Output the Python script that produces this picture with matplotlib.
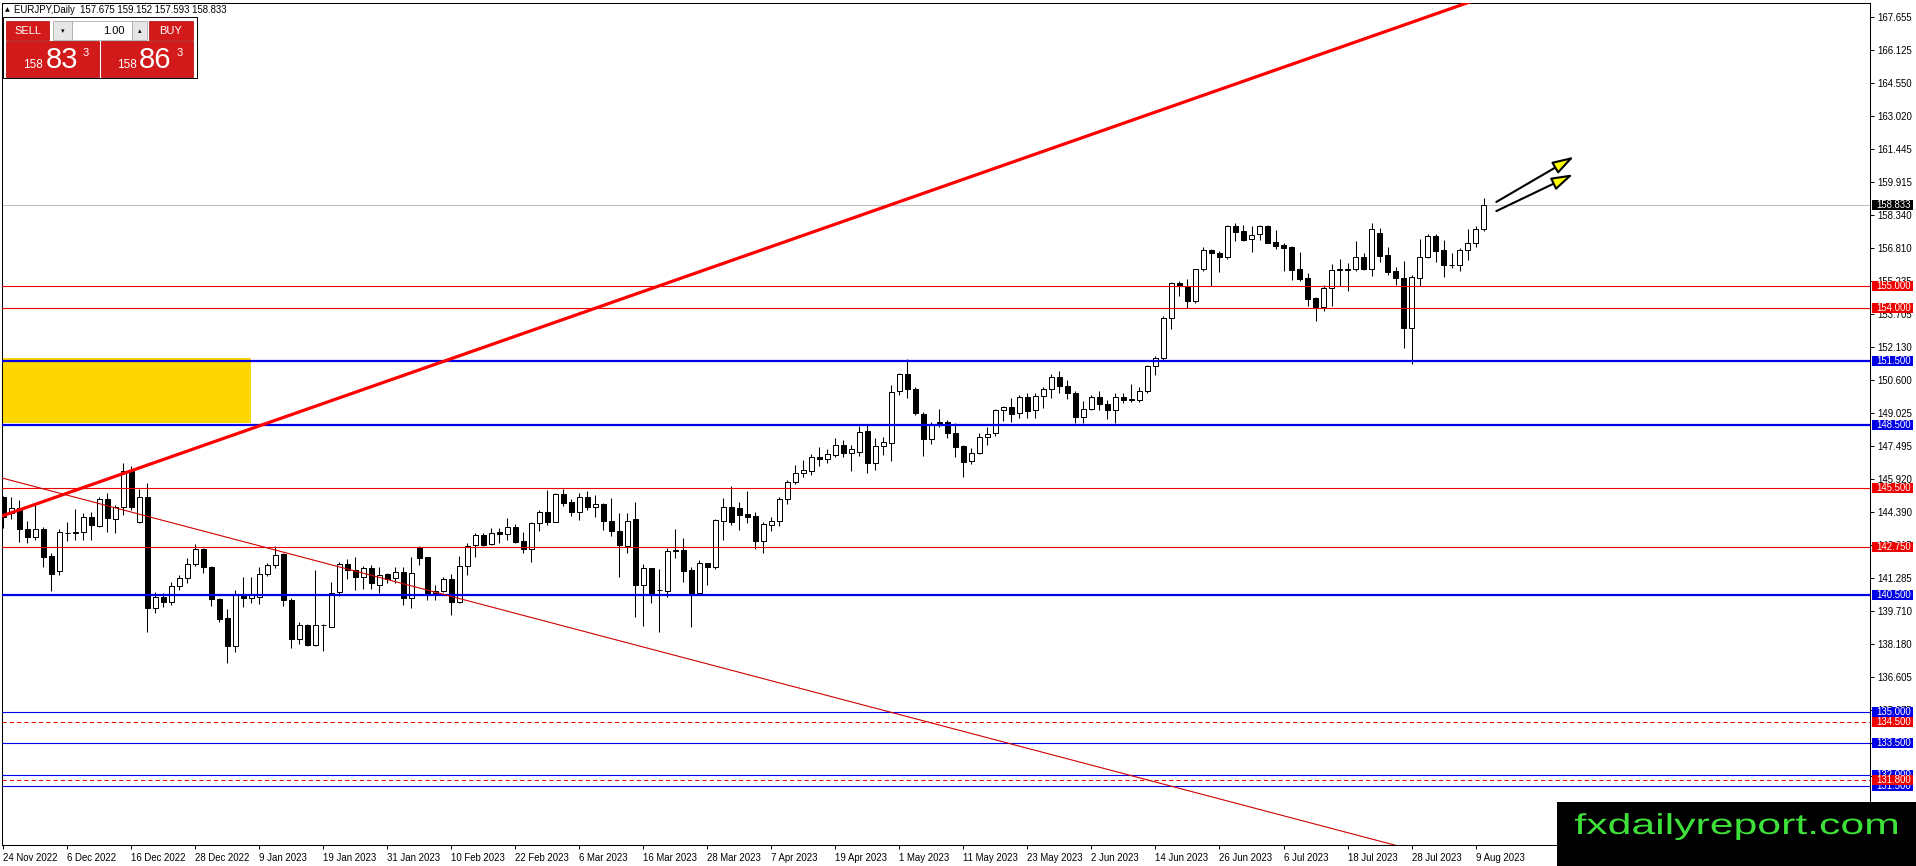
import pandas as pd
import matplotlib
matplotlib.use("Agg")
import matplotlib.pyplot as plt
from matplotlib.patches import Rectangle, PathPatch
from matplotlib.textpath import TextPath
from matplotlib.font_manager import FontProperties
from matplotlib.transforms import Affine2D

plt.rcParams['font.family'] = ['Liberation Sans', 'DejaVu Sans']

W, H = 1916, 866

# EURJPY daily candles, 24 Nov 2022 .. 10 Aug 2023
opens = [145.08, 144.36, 144.59, 143.57, 143.20, 143.57, 142.33, 141.63, 143.38, 143.45,
         143.43, 144.17, 143.74, 144.98, 144.04, 144.64, 146.33, 143.90, 145.11, 139.86,
         140.37, 140.17, 140.92, 141.27, 141.93, 142.63, 141.78, 140.28, 139.39, 138.10,
         140.53, 140.33, 140.37, 141.45, 141.89, 142.40, 140.25, 138.40, 139.07, 138.13,
         139.06, 138.99, 140.64, 141.94, 141.66, 141.35, 141.74, 140.95, 141.45, 141.27,
         141.58, 140.33, 142.76, 142.25, 140.59, 140.69, 141.22, 140.17, 141.85, 142.83,
         143.31, 142.88, 143.46, 143.35, 143.70, 143.02, 142.63, 143.89, 144.40, 143.93,
         145.23, 144.84, 144.40, 145.08, 144.61, 144.76, 143.98, 143.51, 142.80, 144.04,
         140.95, 141.74, 140.74, 140.69, 142.54, 142.60, 141.66, 140.56, 141.97, 141.78,
         143.98, 144.61, 144.56, 144.29, 144.20, 143.04, 143.79, 143.98, 144.98, 145.81,
         146.24, 146.33, 146.96, 146.86, 147.05, 147.52, 147.18, 147.22, 148.20, 146.68,
         147.49, 147.65, 150.09, 150.88, 150.16, 149.00, 147.80, 148.60, 148.60, 148.12,
         147.49, 146.80, 147.15, 147.93, 148.09, 149.18, 149.31, 149.03, 149.78, 149.18,
         149.84, 150.16, 150.75, 150.31, 150.00, 148.84, 149.25, 149.78, 149.47, 149.18,
         149.81, 149.67, 149.65, 150.09, 151.25, 151.65, 153.50, 155.14, 154.99, 154.33,
         155.80, 156.71, 156.59, 156.40, 157.84, 157.60, 157.21, 157.45, 157.84, 157.09,
         156.95, 156.84, 155.80, 155.39, 154.45, 154.05, 154.91, 155.79, 155.80, 155.80,
         156.37, 155.80, 157.53, 156.48, 155.74, 155.38, 153.03, 155.38, 156.37, 157.37,
         156.71, 155.99, 156.02, 156.71, 157.02, 157.675]
highs = [145.14, 145.08, 144.95, 143.96, 144.79, 143.70, 142.44, 143.57, 143.93, 144.51,
         144.36, 144.40, 145.08, 145.26, 144.72, 146.68, 146.55, 145.45, 145.77, 140.64,
         140.59, 141.11, 141.42, 142.21, 142.88, 142.68, 141.85, 140.33, 139.81, 140.72,
         141.35, 141.35, 141.82, 142.00, 142.79, 142.44, 140.33, 139.23, 139.10, 141.66,
         139.12, 141.11, 142.05, 142.16, 142.25, 141.85, 141.89, 141.82, 141.53, 141.78,
         141.82, 142.25, 142.79, 142.29, 140.95, 141.31, 141.47, 142.32, 142.91, 143.38,
         143.38, 143.62, 143.62, 144.09, 143.82, 143.46, 143.93, 144.48, 145.42, 145.27,
         145.45, 144.98, 145.30, 145.38, 145.19, 144.83, 145.03, 144.32, 144.32, 144.87,
         141.93, 141.76, 141.69, 142.68, 143.57, 143.15, 141.78, 142.13, 142.00, 144.04,
         145.03, 145.61, 144.87, 145.38, 144.40, 143.93, 144.17, 145.11, 145.89, 146.60,
         146.83, 147.11, 147.43, 147.33, 147.85, 147.77, 147.54, 148.43, 148.48, 147.85,
         147.93, 150.36, 150.94, 151.57, 150.28, 149.11, 148.64, 149.22, 148.71, 148.59,
         147.54, 147.38, 148.12, 148.40, 149.22, 149.37, 149.73, 149.89, 149.97, 149.97,
         150.28, 150.88, 151.00, 150.60, 150.09, 149.62, 149.89, 150.09, 149.65, 149.97,
         149.97, 150.41, 150.28, 151.30, 151.72, 153.61, 155.22, 155.27, 155.33, 155.83,
         156.87, 156.74, 156.68, 157.87, 157.96, 157.89, 157.84, 157.89, 157.87, 157.65,
         157.02, 156.90, 156.62, 155.64, 154.48, 155.06, 156.05, 156.27, 156.11, 157.13,
         156.55, 158.00, 157.73, 156.87, 155.90, 156.21, 155.53, 157.21, 157.46, 157.46,
         157.18, 156.58, 156.79, 157.68, 157.84, 159.152]
lows = [143.62, 144.04, 142.99, 142.94, 143.07, 141.82, 140.69, 141.42, 143.04, 143.07,
        143.07, 143.07, 143.67, 143.46, 143.41, 144.25, 144.48, 143.85, 138.76, 139.62,
        139.90, 140.01, 140.72, 141.06, 141.85, 141.50, 139.97, 139.23, 137.30, 137.82,
        139.90, 140.09, 140.06, 141.38, 141.74, 139.97, 137.97, 138.18, 138.10, 138.08,
        137.86, 138.98, 140.44, 141.22, 140.72, 140.75, 140.75, 140.56, 141.03, 141.03,
        140.01, 139.86, 141.89, 140.25, 140.25, 140.64, 139.54, 140.12, 141.42, 142.29,
        142.79, 142.83, 142.94, 143.07, 142.94, 142.47, 142.05, 143.51, 143.78, 143.90,
        144.69, 144.21, 144.01, 144.48, 144.17, 143.54, 143.26, 141.31, 142.47, 139.43,
        139.04, 140.09, 138.76, 140.37, 142.24, 141.11, 138.99, 140.54, 140.95, 141.69,
        143.07, 143.78, 143.54, 143.89, 142.63, 142.47, 143.51, 143.73, 144.76, 145.70,
        146.02, 146.13, 146.55, 146.71, 146.96, 146.99, 146.33, 147.02, 146.24, 146.36,
        147.07, 146.80, 149.89, 149.76, 148.95, 147.02, 147.59, 148.37, 147.85, 146.96,
        146.05, 146.63, 147.11, 147.54, 147.96, 148.68, 148.64, 148.79, 148.79, 148.79,
        149.26, 149.73, 150.00, 149.69, 148.59, 148.59, 149.18, 149.18, 148.75, 148.56,
        149.53, 149.58, 149.58, 149.97, 150.83, 151.54, 152.99, 154.55, 153.97, 154.23,
        155.74, 155.02, 155.69, 156.30, 157.15, 157.15, 156.63, 157.18, 157.03, 156.74,
        155.74, 155.30, 155.27, 154.08, 153.39, 153.86, 154.08, 155.02, 154.80, 155.74,
        155.77, 155.49, 156.16, 155.53, 155.06, 152.09, 151.35, 155.02, 156.32, 156.16,
        155.46, 155.85, 155.74, 156.24, 156.84, 157.593]
closes = [144.17, 144.59, 143.57, 143.20, 143.57, 142.29, 141.47, 143.43, 143.41, 143.38,
          144.17, 143.78, 144.98, 144.09, 144.64, 146.33, 144.64, 145.11, 139.86, 140.40,
          140.17, 140.92, 141.27, 141.93, 142.63, 141.78, 140.28, 139.35, 138.10, 140.53,
          140.33, 140.53, 141.45, 141.89, 142.36, 140.25, 138.40, 139.07, 138.13, 139.07,
          139.07, 140.56, 141.94, 141.66, 141.35, 141.74, 141.06, 141.42, 141.22, 141.58,
          140.33, 141.53, 142.21, 140.59, 140.69, 141.22, 140.17, 141.85, 142.79, 143.31,
          142.83, 143.38, 143.35, 143.70, 142.99, 142.63, 143.89, 144.40, 143.93, 145.23,
          144.83, 144.37, 145.08, 144.61, 144.75, 143.98, 143.51, 142.84, 143.98, 140.95,
          141.74, 140.56, 140.72, 142.55, 142.58, 141.63, 140.56, 141.97, 141.82, 144.01,
          144.61, 143.90, 144.25, 144.17, 143.04, 143.82, 143.98, 144.98, 145.81, 146.24,
          146.36, 146.99, 146.86, 147.10, 147.52, 147.18, 147.33, 148.17, 146.68, 147.49,
          147.70, 150.03, 150.88, 150.16, 149.03, 147.80, 148.48, 148.56, 148.12, 147.46,
          146.75, 147.15, 147.93, 148.06, 149.18, 149.31, 148.98, 149.78, 149.15, 149.84,
          150.16, 150.75, 150.31, 149.97, 148.84, 149.25, 149.78, 149.47, 149.18, 149.81,
          149.65, 149.68, 150.09, 151.25, 151.65, 153.50, 155.14, 155.02, 154.33, 155.80,
          156.71, 156.55, 156.40, 157.84, 157.57, 157.18, 157.42, 157.84, 157.06, 156.90,
          156.79, 155.77, 155.36, 154.42, 154.05, 154.91, 155.77, 155.80, 155.79, 156.37,
          155.80, 157.68, 156.43, 155.69, 155.38, 153.03, 155.42, 156.37, 157.37, 156.68,
          155.99, 156.00, 156.71, 157.06, 157.68, 158.833]
dates = pd.bdate_range('2022-11-24', periods=len(opens))

# right price scale
y_ticks = [167.655, 166.125, 164.550, 163.020, 161.445, 159.915, 158.340, 156.810,
           155.235, 153.705, 152.130, 150.600, 149.025, 147.495, 145.920, 144.390,
           142.815, 141.285, 139.710, 138.180, 136.605, 135.075, 133.500, 131.970,
           130.395, 128.865]

# horizontal levels drawn on the chart
levels = [155.0, 154.0, 151.5, 148.5, 145.5, 142.75, 140.5,
          135.0, 134.5, 133.5, 132.0, 131.8, 131.5]
level_colors = ['r', 'r', 'b', 'b', 'r', 'r', 'b', 'b', 'r', 'b', 'b', 'r', 'b']
level_kinds = ['thin', 'thin', 'thick', 'thick', 'thin', 'thin', 'thick',
               'thin', 'dash', 'thin', 'thin', 'dash', 'thin']
bid = 158.833

zone_low, zone_high, zone_end = 148.55, 151.65, 30.9
trend_up = [(0, 144.22), (150, 163.99)]
trend_down = [(0, 145.97), (150, 131.09)]
arrows = [((186.6, 158.97), (196.3, 161.10)),
          ((186.6, 158.54), (196.2, 160.27))]

RED = '#ee0000'
BLUE = '#0000e6'
cmap = {'r': RED, 'b': BLUE}


def fx(x):
    return x / W


def fy(y):
    return 1 - y / H


fig = plt.figure(figsize=(W / 100, H / 100), dpi=100)
fig.patch.set_facecolor('white')
AX_L, AX_R, AX_T, AX_B = 2.3, 1870, 2.7, 845
ax = fig.add_axes([fx(AX_L), fy(AX_B), (AX_R - AX_L) / W, (AX_B - AX_T) / H])
ax.set_xlim(-0.125, 233.3)
ax.set_ylim(128.723, 168.342)

# yellow zone
ax.add_patch(Rectangle((-10, zone_low), zone_end + 10, zone_high - zone_low,
                       fc='#ffd700', ec='none', zorder=0.5))

# candles
xs = list(range(len(opens)))
ax.vlines(xs, lows, highs, color='black', lw=0.75, zorder=2)
for i in xs:
    o, c = opens[i], closes[i]
    fc = 'black' if c < o else 'white'
    ax.add_patch(Rectangle((i - 0.28, min(o, c)), 0.56, max(abs(c - o), 0.005),
                           fc=fc, ec='black', lw=0.72, zorder=3))

# horizontal levels
for lv, col, kind in zip(levels, level_colors, level_kinds):
    if kind == 'thick':
        ax.axhline(lv, color=cmap[col], lw=1.6, zorder=4)
    elif kind == 'dash':
        ax.axhline(lv, color=cmap[col], lw=0.75, ls=(0, (4, 3)), zorder=4)
    else:
        ax.axhline(lv, color=cmap[col], lw=0.8, zorder=4)
ax.axhline(bid, color='#c0c0c0', lw=0.8, zorder=1)

# trend lines


def extend(pts, x0=-5, x1=240):
    (a, pa), (b, pb) = pts
    k = (pb - pa) / (b - a)
    return [x0, x1], [pa + k * (x0 - a), pa + k * (x1 - a)]


ax.plot(*extend(trend_up), color='#ff0000', lw=2.3, zorder=5, solid_capstyle='butt')
ax.plot(*extend(trend_down), color='#d00000', lw=0.8, zorder=5)

# arrows
for start, end in arrows:
    ax.annotate('', xy=end, xytext=start,
                arrowprops=dict(arrowstyle='-|>,head_length=1.3,head_width=0.4',
                                fc='yellow', ec='black', lw=1.5,
                                shrinkA=0, shrinkB=0), zorder=6)

# axes style
for s in ax.spines.values():
    s.set_linewidth(0.75)
    s.set_color('black')
ax.yaxis.tick_right()
ax.set_yticks(y_ticks)
ax.set_yticklabels([f'{v:.3f}' for v in y_ticks])
ax.tick_params(axis='y', direction='out', length=3, width=0.7, pad=2.2,
               labelsize=6.9, colors='black')
tick_idx = list(range(0, len(dates), 8))
ax.set_xticks(tick_idx)
ax.set_xticklabels([f'{dates[i].day} {dates[i]:%b %Y}' for i in tick_idx],
                   ha='left', fontsize=6.9)
ax.tick_params(axis='x', direction='out', length=3, width=0.7, pad=2.5)

# price labels on the right scale


def ax_x(px):
    return (px - AX_L) / (AX_R - AX_L)


def price_box(v, fc, z):
    ax.add_patch(Rectangle((ax_x(1872), v - 0.235), ax_x(1913) - ax_x(1872), 0.47,
                           transform=ax.get_yaxis_transform(), fc=fc, ec='none',
                           clip_on=False, zorder=z))
    ax.text(ax_x(1876), v, f'{v:.3f}', transform=ax.get_yaxis_transform(),
            ha='left', va='center', color='white', fontsize=6.9,
            clip_on=False, zorder=z + 0.1)


order = [lv for lv, c in zip(levels, level_colors) if c == 'b'] + \
        [lv for lv, c in zip(levels, level_colors) if c == 'r']
for lv in order:
    col = level_colors[levels.index(lv)]
    price_box(lv, cmap[col], 7 if col == 'r' else 6)
price_box(bid, 'black', 7)

# header
fig.text(fx(5), fy(10), '\u25b2', fontsize=4.5, va='center', color='black',
         family=['DejaVu Sans'], zorder=21)
fig.text(fx(14), fy(10), 'EURJPY,Daily  157.675 159.152 157.593 158.833',
         fontsize=6.9, va='center', color='black', zorder=21)


# one-click trading panel
def box(x0, y0, x1, y1, fc, ec='none', lw=0.0, z=20):
    fig.add_artist(Rectangle((fx(x0), fy(y1)), (x1 - x0) / W, (y1 - y0) / H,
                             transform=fig.transFigure, fc=fc, ec=ec, lw=lw, zorder=z))


PANEL_RED = '#d31a1a'
box(3, 17, 197, 78, 'white', ec='black', lw=0.7, z=19)
box(6, 21, 49, 40, PANEL_RED, ec='#b00000', lw=0.5)
box(53, 21, 72, 40, '#e6e6e6', ec='#a0a0a0', lw=0.5)
box(72, 21, 132, 40, 'white', ec='#a0a0a0', lw=0.5)
box(132, 21, 147, 40, '#e6e6e6', ec='#a0a0a0', lw=0.5)
box(149, 21, 193, 40, PANEL_RED, ec='#b00000', lw=0.5)
box(6, 41, 99, 77, PANEL_RED, ec='#b00000', lw=0.5)
box(101, 41, 193, 77, PANEL_RED, ec='#b00000', lw=0.5)
fig.text(fx(27.5), fy(31), 'SELL', color='white', fontsize=8, ha='center', va='center', zorder=21)
fig.text(fx(171), fy(31), 'BUY', color='white', fontsize=8, ha='center', va='center', zorder=21)
fig.text(fx(62.5), fy(31), '\u25be', color='black', fontsize=5, ha='center', va='center',
         family=['DejaVu Sans'], zorder=21)
fig.text(fx(139.5), fy(31), '\u25b4', color='black', fontsize=5, ha='center', va='center',
         family=['DejaVu Sans'], zorder=21)
fig.text(fx(125), fy(31), '1.00', color='black', fontsize=8, ha='right', va='center', zorder=21)
for x_small, x_big, x_sup, big in [(23, 46, 83, '83'), (117, 139, 177, '86')]:
    fig.text(fx(x_small), fy(68), '158', color='white', fontsize=8.5, va='baseline', zorder=21)
    fig.text(fx(x_big), fy(68), big, color='white', fontsize=21, va='baseline', zorder=21)
    fig.text(fx(x_sup), fy(56), '3', color='white', fontsize=8, va='baseline', zorder=21)

# watermark
box(1557, 802, 1916, 866, 'black', z=30)
tp = TextPath((0, 0), 'fxdailyreport.com', size=1,
              prop=FontProperties(family='Liberation Sans'))
ext = tp.get_extents()
sx = (1897 - 1575) / (ext.x1 - ext.x0)
sy = 21 / 0.729
wm = PathPatch(tp, transform=Affine2D().translate(-ext.x0, 0).scale(sx, sy).translate(1575, H - 834),
               fc='#3ee03a', ec='none', zorder=31)
fig.add_artist(wm)

fig.savefig('out.png', dpi=100)
